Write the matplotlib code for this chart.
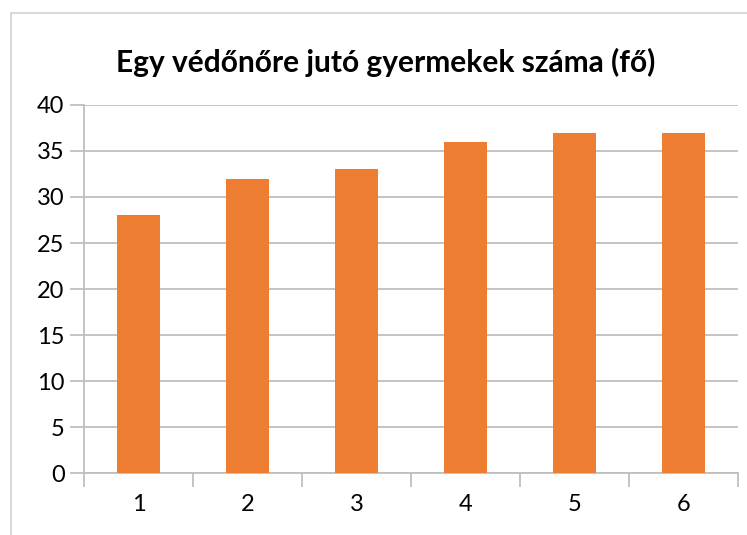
import numpy as np
import matplotlib
matplotlib.use('Agg')
import matplotlib.pyplot as plt
from matplotlib.patches import Rectangle

# ── data ──────────────────────────────────────────────────────────────────────
categories = ['1', '2', '3', '4', '5', '6']
values     = [28, 32, 33, 36, 37, 37]
y_ticks    = [0, 5, 10, 15, 20, 25, 30, 35, 40]
TITLE      = 'Egy védőnőre jutó gyermekek száma (fő)'

ORANGE = '#ED7D31'
GRID   = '#BFBFBF'
FONT   = ['Lato', 'DejaVu Sans']

plt.rcParams['font.family'] = FONT

fig = plt.figure(figsize=(7.47, 5.35), dpi=100)
fig.patch.set_facecolor('white')
ax = fig.add_axes([84/747, 62/535, 654/747, 368/535])

x = np.arange(len(categories))
ax.bar(x, values, width=0.40, color=ORANGE, zorder=3)

ax.set_xlim(-0.5, len(categories) - 0.5)
ax.set_ylim(0, 40)
ax.set_yticks(y_ticks)
ax.set_yticklabels([str(v) for v in y_ticks], fontsize=17)
ax.set_xticks(x)
ax.set_xticklabels(categories, fontsize=17)
ax.set_xticks(np.arange(-0.5, len(categories)), minor=True)

ax.tick_params(axis='x', which='major', length=0, pad=15)
ax.tick_params(axis='x', which='minor', length=10, width=1.3, color=GRID, direction='out')
ax.tick_params(axis='y', length=10, width=1.3, color=GRID, pad=4)

ax.yaxis.grid(True, color=GRID, linewidth=1.3)
ax.set_axisbelow(True)
for s in ['top', 'right']:
    ax.spines[s].set_visible(False)
for s in ['left', 'bottom']:
    ax.spines[s].set_color(GRID)
    ax.spines[s].set_linewidth(1.3)

fig.text(386/747, 1 - 62/535, TITLE, ha='center', va='center',
         fontsize=21.5, fontweight='bold', color='black')

# chart-area border
fig.patches.append(Rectangle((11/747, -0.01), 1.0, 1 - 13/535 + 0.01,
                             transform=fig.transFigure, fill=False,
                             edgecolor='#D9D9D9', linewidth=1.5))

plt.savefig('out.png', dpi=100, facecolor='white')
plt.close()
